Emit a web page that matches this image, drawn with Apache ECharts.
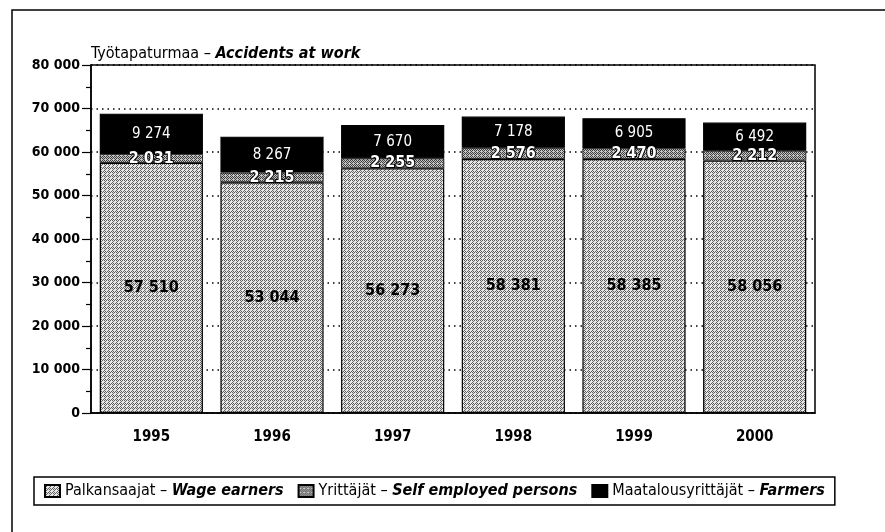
<!DOCTYPE html>
<html style="height: 100%">
<head>
<meta charset="utf-8">
</head>
<body style="height: 100%; margin: 0; background: #fff">
<div id="container" style="width: 885px; height: 532px"></div>
<script type="text/javascript" src="https://cdn.jsdelivr.net/npm/echarts@6/dist/echarts.min.js"></script>
<script type="text/javascript">
var years = ['1995', '1996', '1997', '1998', '1999', '2000'];
var wageEarners = [57510, 53044, 56273, 58381, 58385, 58056];
var selfEmployed = [2031, 2215, 2255, 2576, 2470, 2212];
var farmers = [9274, 8267, 7670, 7178, 6905, 6492];
var yTicks = [0, 10000, 20000, 30000, 40000, 50000, 60000, 70000, 80000];

var FONT = "'Liberation Sans Narrow', 'DejaVu Sans Condensed', 'Roboto Condensed', 'Liberation Sans', sans-serif";

// small dithered tiles to imitate the halftone print
function tile(base, dot, mask) {
    var c = document.createElement('canvas');
    c.width = 4; c.height = 4;
    var ctx = c.getContext('2d');
    ctx.fillStyle = base;
    ctx.fillRect(0, 0, 4, 4);
    ctx.fillStyle = dot;
    for (var y = 0; y < 4; y++) {
        for (var x = 0; x < 4; x++) {
            if (mask[y][x] === '1') ctx.fillRect(x, y, 1, 1);
        }
    }
    return c;
}
var wageTile = tile('#e6e6e6', '#606060', ['1010', '0100', '1000', '0101']);
var selfTile = tile('#c4c4c4', '#404040', ['1010', '0101', '1010', '0001']);

function fmt(v) {
    return String(v).replace(/\B(?=(\d{3})+(?!\d))/g, ' ');
}

var dom = document.getElementById('container');
var myChart = echarts.init(dom);

var option = {
    animation: false,
    textStyle: { fontFamily: FONT },
    graphic: [{
        type: 'rect',
        shape: { x: 12, y: 10, width: 1000, height: 1000 },
        style: { fill: 'none', stroke: '#000', lineWidth: 1.5 },
        z: -1
    }],
    title: {
        text: '{a|Työtapaturmaa – }{b|Accidents at work}',
        left: 86,
        top: 41,
        textStyle: {
            rich: {
                a: { fontFamily: FONT, fontSize: 16, color: '#000', fontWeight: 'normal' },
                b: { fontFamily: FONT, fontSize: 16, color: '#000', fontStyle: 'italic', fontWeight: 'bold' }
            }
        }
    },
    legend: {
        left: 34,
        top: 477,
        padding: [6, 10, 6, 10],
        borderColor: '#000',
        borderWidth: 1.5,
        backgroundColor: '#fff',
        itemWidth: 15,
        itemHeight: 12,
        itemGap: 14,
        icon: 'rect',
        formatter: function (name) {
            var parts = name.split(' – ');
            return '{a|' + parts[0] + ' – }{b|' + parts[1] + '}';
        },
        textStyle: {
            rich: {
                a: { fontFamily: FONT, fontSize: 16, color: '#000' },
                b: { fontFamily: FONT, fontSize: 16, color: '#000', fontStyle: 'italic', fontWeight: 'bold' }
            }
        }
    },
    grid: {
        left: 91,
        top: 65,
        right: 70,
        bottom: 119,
        show: true,
        borderColor: '#000',
        borderWidth: 1.5
    },
    xAxis: {
        type: 'category',
        data: years,
        axisLine: { lineStyle: { color: '#000', width: 1.5 } },
        axisTick: { show: false },
        axisLabel: { color: '#000', fontFamily: FONT, fontSize: 15, fontWeight: 'bold', margin: 17 }
    },
    yAxis: {
        type: 'value',
        min: 0,
        max: 80000,
        interval: 10000,
        axisLine: { show: true, lineStyle: { color: '#000', width: 1.5 } },
        axisTick: { show: true, length: 9, lineStyle: { color: '#000', width: 1.2 } },
        minorTick: { show: true, splitNumber: 2, length: 5, lineStyle: { color: '#000', width: 1.2 } },
        axisLabel: {
            color: '#000', fontFamily: FONT, fontSize: 14, fontWeight: 'bold', margin: 11,
            formatter: function (v) { return yTicks.indexOf(v) >= 0 ? fmt(v) : ''; }
        },
        splitLine: { show: true, lineStyle: { color: '#000', type: [1.5, 4], width: 1.5 } }
    },
    series: [{
        name: 'Palkansaajat – Wage earners',
        type: 'bar',
        stack: 'total',
        barCategoryGap: '14.5%',
        data: wageEarners,
        itemStyle: { color: { image: wageTile, repeat: 'repeat' }, borderColor: '#000', borderWidth: 1.2 },
        label: {
            show: true, position: 'inside', color: '#000', fontFamily: FONT,
            fontSize: 16, fontWeight: 'bold',
            formatter: function (p) { return fmt(p.value); }
        }
    }, {
        name: 'Yrittäjät – Self employed persons',
        type: 'bar',
        stack: 'total',
        data: selfEmployed,
        itemStyle: { color: { image: selfTile, repeat: 'repeat' }, borderColor: '#000', borderWidth: 0.8 },
        label: {
            show: true, position: 'inside', color: '#fff', fontFamily: FONT,
            fontSize: 16, fontWeight: 'bold', textBorderColor: '#000', textBorderWidth: 2,
            formatter: function (p) { return fmt(p.value); }
        }
    }, {
        name: 'Maatalousyrittäjät – Farmers',
        type: 'bar',
        stack: 'total',
        data: farmers,
        itemStyle: { color: '#000', borderColor: '#000', borderWidth: 1.2 },
        label: {
            show: true, position: 'inside', color: '#fff', fontFamily: FONT,
            fontSize: 15,
            formatter: function (p) { return fmt(p.value); }
        }
    }]
};

myChart.setOption(option);
</script>
</body>
</html>
